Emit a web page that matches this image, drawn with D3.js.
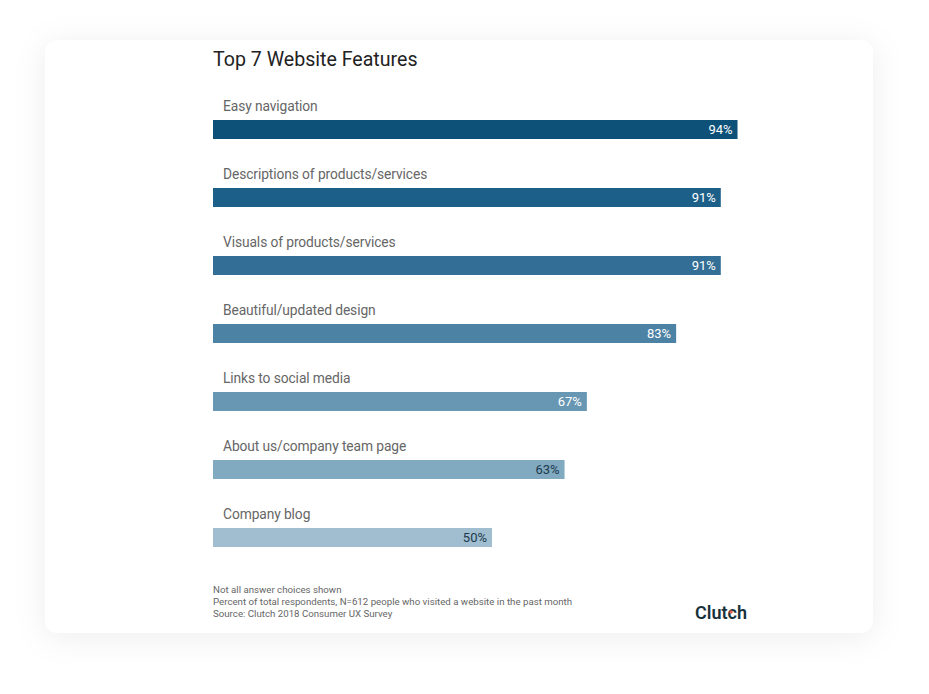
<!DOCTYPE html>
<html><head><meta charset="utf-8">
<script src="https://cdn.jsdelivr.net/npm/d3@7"></script>
<style>html,body{margin:0;padding:0;background:#fff;}svg{display:block;}</style>
</head><body>
<script>
const categories = ["Easy navigation","Descriptions of products/services","Visuals of products/services","Beautiful/updated design","Links to social media","About us/company team page","Company blog"];
const values = [94,91,91,83,67,63,50];
const barColors = ["#0d5179","#1c5f88","#326e95","#4c83a5","#6797b3","#81aac1","#a0bed0"];
const labelColors = ["#fff","#fff","#fff","#fff","#fff","#1d3a4d","#1d3a4d"];
const title = "Top 7 Website Features";
const notes = ["Not all answer choices shown","Percent of total respondents, N=612 people who visited a website in the past month","Source: Clutch 2018 Consumer UX Survey"];

const W=929,H=694;
const svg=d3.select("body").append("svg").attr("width",W).attr("height",H);
const defs=svg.append("defs");
const f=defs.append("filter").attr("id","sh").attr("x","-20%").attr("y","-20%").attr("width","140%").attr("height","140%");
f.append("feDropShadow").attr("dx",0).attr("dy",4).attr("stdDeviation",16).attr("flood-color","#000").attr("flood-opacity",0.07);
svg.append("rect").attr("x",45).attr("y",40).attr("width",828).attr("height",593).attr("rx",13).attr("fill","#fff").attr("filter","url(#sh)");

const font="Roboto, 'Liberation Sans', Arial, sans-serif";
svg.append("text").attr("x",213).attr("y",66).text(title).attr("font-family",font).attr("font-size",19.6).attr("fill","#222");

const x=d3.scaleLinear().domain([0,100]).range([213,771]);
const y=d3.scaleBand().domain(categories).range([95,571]).paddingInner(0).paddingOuter(0);

const g=svg.append("g").selectAll("g").data(categories).join("g");
g.append("text").attr("x",223).attr("y",c=>y(c)+16).text(c=>c).attr("font-family",font).attr("font-size",13.8).attr("fill","#666")
 .attr("textLength",null);
g.selectAll("text").attr("letter-spacing",-0.1);
g.append("rect").attr("x",x(0)).attr("y",c=>y(c)+25).attr("height",19)
 .attr("width",(c,i)=>x(values[i])-x(0)).attr("fill",(c,i)=>barColors[i]);
g.append("text").attr("x",(c,i)=>x(values[i])-5).attr("y",c=>y(c)+39).attr("text-anchor","end")
 .text((c,i)=>values[i]+"%").attr("font-family",font).attr("font-size",13).attr("fill",(c,i)=>labelColors[i]);

svg.append("g").selectAll("text").data(notes).join("text").attr("x",213).attr("y",(d,i)=>593+i*12).text(d=>d)
 .attr("font-family",font).attr("font-size",9.7).attr("fill","#666");

svg.append("text").attr("x",695).attr("y",619).attr("font-family",font).attr("font-size",18).attr("font-weight",600).attr("fill","#17313b").text("Clutch");
svg.append("circle").attr("cx",731).attr("cy",612).attr("r",1.7).attr("fill","#e8574e");
</script>
</body></html>
